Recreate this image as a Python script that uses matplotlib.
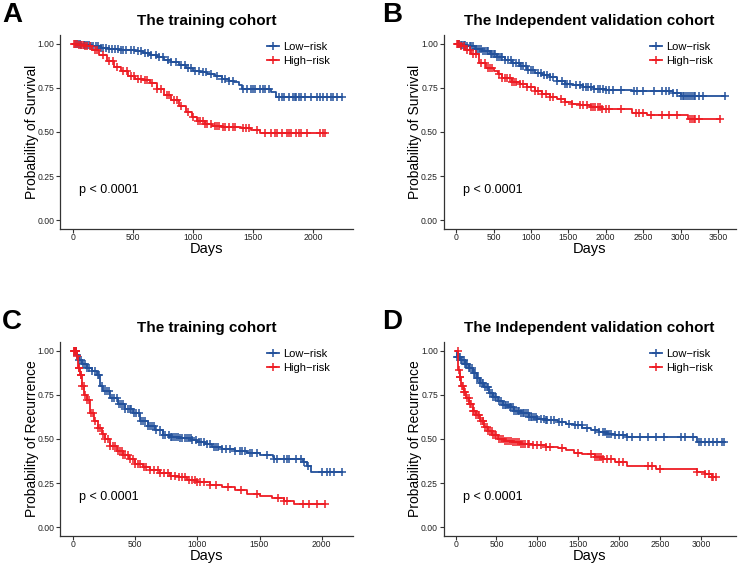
import numpy as np
import matplotlib
matplotlib.use("Agg")
import matplotlib.pyplot as plt
from matplotlib.lines import Line2D

plt.rcParams["font.family"] = "Liberation Sans"

BLUE = "#23519B"
RED = "#EE1C24"

# ---- Panel A: training cohort, survival ----
a_low_t = [0, 60, 150, 230, 300, 380, 450, 520, 580, 640, 700, 760, 820, 880, 940, 1000,
           1060, 1120, 1180, 1240, 1300, 1340, 1380, 1410, 1650, 1690, 2239]
a_low_s = [1.0, .995, .985, .978, .972, .967, .962, .957, .948, .936, .924, .91, .895, .878, .862, .848,
           .838, .826, .815, .803, .79, .782, .765, .745, .725, .70, .70]
a_low_c = [25, 40, 55, 70, 90, 100, 115, 130, 150, 170, 190, 210, 230, 250, 275, 300, 325, 350, 375,
           400, 420, 445, 480, 510, 540, 570, 600, 625, 650, 690, 720, 750, 790, 820, 860, 900, 930, 960,
           980, 1020, 1050, 1080, 1110, 1150, 1200, 1240, 1270, 1300, 1330, 1420, 1450, 1480, 1500, 1520,
           1560, 1580, 1600, 1630, 1720, 1740, 1760, 1800, 1830, 1850, 1860, 1880, 1900, 1930, 1980,
           2030, 2060, 2080, 2120, 2150, 2170, 2200, 2239]
a_high_t = [0, 40, 100, 160, 220, 280, 340, 400, 460, 520, 580, 640, 700, 760, 820, 880, 940, 990,
            1030, 1100, 1160, 1250, 1400, 1480, 1560, 2100]
a_high_s = [1.0, .995, .985, .965, .935, .9, .87, .845, .82, .80, .795, .78, .745, .71, .68, .645, .615, .585,
            .56, .545, .535, .528, .52, .51, .495, .495]
a_high_c = [10, 20, 35, 50, 65, 80, 100, 120, 140, 180, 200, 250, 300, 330, 370, 420, 450, 480, 510,
            540, 570, 600, 620, 660, 700, 730, 780, 800, 840, 870, 900, 960, 1000, 1040, 1060, 1080,
            1100, 1120, 1150, 1180, 1200, 1220, 1250, 1270, 1300, 1330, 1350, 1420, 1440, 1470, 1530,
            1600, 1650, 1680, 1700, 1740, 1780, 1800, 1820, 1860, 1880, 1900, 1950, 2060, 2080, 2100]

# ---- Panel B: validation cohort, survival ----
b_low_t = [0, 60, 150, 250, 350, 450, 550, 650, 750, 850, 950, 1050, 1150, 1250, 1350, 1450, 1550,
           1700, 1850, 2000, 2350, 2900, 3000, 3590]
b_low_s = [1.0, .995, .985, .972, .958, .942, .925, .91, .89, .872, .852, .835, .822, .81, .79, .77, .765,
           .755, .745, .74, .73, .72, .705, .705]
b_low_c = [20, 40, 60, 80, 100, 120, 150, 180, 200, 230, 260, 280, 310, 330, 360, 380, 410, 430, 460,
           480, 500, 520, 550, 580, 600, 620, 660, 700, 730, 760, 800, 840, 870, 900, 930, 960, 1000,
           1030, 1100, 1140, 1180, 1220, 1260, 1300, 1350, 1420, 1450, 1480, 1520, 1600, 1650, 1700,
           1730, 1760, 1800, 1850, 1900, 1930, 1960, 2000, 2050, 2100, 2200, 2380, 2420, 2500, 2650,
           2750, 2800, 2850, 2900, 2950, 3000, 3030, 3050, 3080, 3100, 3130, 3150, 3180, 3200, 3250,
           3300, 3590]
b_high_t = [0, 50, 120, 200, 300, 400, 500, 560, 620, 750, 850, 950, 1050, 1150, 1250, 1350, 1450, 1550,
            1650, 1800, 1950, 2350, 2550, 3100, 3522]
b_high_s = [1.0, .985, .965, .94, .89, .865, .845, .83, .805, .785, .77, .755, .735, .718, .70, .685, .67,
            .66, .652, .64, .628, .61, .597, .575, .575]
b_high_c = [10, 20, 40, 60, 100, 150, 180, 220, 260, 330, 380, 420, 450, 480, 580, 620, 650, 680, 720,
            750, 780, 800, 850, 900, 950, 1000, 1050, 1100, 1150, 1200, 1250, 1300, 1400, 1450, 1550,
            1650, 1700, 1750, 1800, 1830, 1860, 1900, 1930, 1950, 2000, 2050, 2200, 2400, 2450, 2500,
            2600, 2750, 2850, 2950, 3130, 3150, 3180, 3200, 3250, 3522]

# ---- Panel C: training cohort, recurrence ----
c_low_t = [0, 30, 45, 70, 110, 150, 190, 220, 240, 300, 360, 420, 480, 540, 600, 660, 720, 780, 850,
           950, 1000, 1060, 1120, 1200, 1300, 1400, 1500, 1610, 1620, 1850, 1880, 1912, 2161]
c_low_s = [1.0, .975, .945, .925, .905, .885, .86, .80, .77, .73, .70, .67, .645, .60, .575, .55, .525, .51,
           .505, .495, .485, .47, .455, .445, .43, .418, .407, .395, .388, .37, .345, .312, .312]
c_low_c = [15, 20, 25, 35, 50, 60, 80, 100, 115, 130, 150, 180, 200, 210, 230, 260, 275, 290, 310, 330,
           350, 370, 385, 400, 420, 440, 455, 470, 490, 510, 530, 550, 565, 580, 600, 620, 635, 650,
           670, 700, 720, 740, 770, 790, 800, 815, 830, 845, 860, 880, 900, 915, 930, 945, 960, 990,
           1010, 1030, 1050, 1080, 1100, 1130, 1150, 1170, 1200, 1230, 1260, 1300, 1340, 1360, 1380,
           1420, 1440, 1480, 1560, 1620, 1640, 1700, 1720, 1740, 1790, 1830, 1860, 1890, 2000, 2040,
           2070, 2100, 2161]
c_high_t = [0, 30, 40, 55, 70, 90, 110, 140, 170, 200, 230, 260, 300, 350, 400, 450, 500, 560, 620, 700,
            780, 850, 920, 1000, 1100, 1200, 1300, 1400, 1500, 1600, 1700, 1780, 2027]
c_high_s = [1.0, .97, .90, .86, .80, .75, .72, .645, .60, .565, .53, .50, .46, .43, .41, .385, .36, .34, .325,
            .305, .29, .282, .27, .255, .24, .225, .21, .19, .176, .165, .15, .131, .131]
c_high_c = [5, 10, 15, 20, 25, 35, 45, 50, 60, 65, 75, 85, 100, 115, 130, 145, 160, 180, 200, 215, 240,
            260, 280, 300, 320, 340, 360, 375, 390, 405, 420, 440, 460, 480, 500, 520, 540, 570, 590,
            620, 650, 680, 700, 730, 760, 790, 820, 850, 880, 900, 930, 960, 980, 1000, 1020, 1050,
            1100, 1150, 1250, 1350, 1480, 1650, 1700, 1720, 1850, 1900, 1960, 2027]

# ---- Panel D: validation cohort, recurrence ----
d_low_t = [0, 20, 60, 110, 160, 210, 260, 300, 350, 410, 460, 520, 580, 650, 720, 800, 900, 1000, 1100,
           1250, 1350, 1450, 1550, 1650, 1750, 1850, 1950, 2100, 2950, 3285]
d_low_s = [1.0, .966, .945, .925, .90, .875, .845, .82, .795, .76, .74, .715, .695, .68, .66, .645, .625,
           .613, .605, .597, .587, .578, .565, .55, .54, .528, .52, .511, .485, .485]
d_low_c = [20, 30, 40, 50, 65, 80, 100, 120, 130, 140, 160, 180, 200, 220, 240, 260, 280, 300, 320, 340,
           360, 380, 400, 420, 440, 460, 480, 500, 530, 560, 580, 600, 620, 640, 660, 680, 700, 720,
           740, 760, 780, 800, 820, 840, 860, 880, 900, 920, 940, 960, 980, 1000, 1040, 1080, 1100,
           1120, 1160, 1200, 1260, 1300, 1380, 1460, 1500, 1540, 1600, 1700, 1750, 1800, 1830, 1850,
           1880, 1900, 1950, 2000, 2050, 2100, 2150, 2250, 2350, 2450, 2550, 2750, 2800, 2900, 2980,
           3000, 3050, 3100, 3150, 3200, 3250, 3285]
d_high_t = [0, 30, 50, 70, 100, 130, 170, 210, 250, 300, 350, 400, 450, 520, 600, 700, 800, 950, 1100,
            1250, 1350, 1450, 1550, 1700, 1800, 1950, 2100, 2450, 2950, 3050, 3130, 3182]
d_high_s = [1.0, .89, .85, .80, .765, .73, .70, .66, .635, .60, .57, .545, .52, .50, .49, .48, .47, .465,
            .457, .45, .44, .42, .415, .395, .385, .37, .345, .331, .31, .30, .285, .285]
d_high_c = [25, 40, 50, 60, 75, 90, 105, 120, 140, 160, 175, 190, 210, 230, 250, 270, 290, 310, 330,
            340, 360, 380, 400, 420, 440, 460, 480, 500, 530, 550, 580, 600, 630, 650, 680, 700, 730,
            750, 780, 800, 830, 850, 880, 900, 950, 1000, 1050, 1100, 1150, 1300, 1500, 1650, 1700,
            1730, 1750, 1780, 1800, 1850, 1900, 2000, 2050, 2350, 2400, 2500, 2950, 3050, 3100, 3130,
            3150, 3182]

panels = [
    ("A", "The training cohort", "Probability of Survival",
     (a_low_t, a_low_s, a_low_c), (a_high_t, a_high_s, a_high_c), (-108, 2333), np.arange(0, 2001, 500)),
    ("B", "The Independent validation cohort", "Probability of Survival",
     (b_low_t, b_low_s, b_low_c), (b_high_t, b_high_s, b_high_c), (-168, 3739), np.arange(0, 3501, 500)),
    ("C", "The training cohort", "Probability of Recurrence",
     (c_low_t, c_low_s, c_low_c), (c_high_t, c_high_s, c_high_c), (-105, 2252), np.arange(0, 2001, 500)),
    ("D", "The Independent validation cohort", "Probability of Recurrence",
     (d_low_t, d_low_s, d_low_c), (d_high_t, d_high_s, d_high_c), (-147, 3424), np.arange(0, 3001, 500)),
]

# axes boxes in figure fractions (left, bottom, width, height)
boxes = [(0.0813, 0.5933, 0.397, 0.3446), (0.601, 0.5933, 0.396, 0.3446),
         (0.0813, 0.048, 0.397, 0.3446), (0.601, 0.048, 0.396, 0.3446)]
letter_pos = [(0.003, 0.973), (0.518, 0.973), (0.003, 0.428), (0.518, 0.428)]


def draw_km(ax, t, s, cens, color):
    t = np.asarray(t, dtype=float)
    s = np.asarray(s, dtype=float)
    ax.step(t, s, where="post", color=color, lw=1.3)
    idx = np.searchsorted(t, cens, side="right") - 1
    ax.plot(cens, s[idx], ls="none", marker="+", ms=5.5, mew=1.1, color=color)


fig = plt.figure(figsize=(7.38, 5.63), dpi=100)

for (letter, title, ylab, low, high, xlim, xt), box, lp in zip(panels, boxes, letter_pos):
    ax = fig.add_axes(box)
    draw_km(ax, *low, BLUE)
    draw_km(ax, *high, RED)
    ax.set_xlim(*xlim)
    ax.set_ylim(-0.05, 1.05)
    ax.set_xticks(xt)
    ax.set_yticks([0, 0.25, 0.5, 0.75, 1.0])
    ax.set_yticklabels(["0.00", "0.25", "0.50", "0.75", "1.00"])
    for sp in ["top", "right"]:
        ax.spines[sp].set_visible(False)
    for sp in ["left", "bottom"]:
        ax.spines[sp].set_color("#333333")
        ax.spines[sp].set_linewidth(0.9)
    ax.tick_params(labelsize=6.2, length=3, width=0.8, color="#333333", labelcolor="#222222", pad=1)
    ax.tick_params(axis="x", pad=0)
    ax.set_title(title, fontsize=11, fontweight="bold", pad=7)
    ax.set_ylabel(ylab, fontsize=10)
    ax.yaxis.set_label_coords(-0.073, 0.5)
    ax.set_xlabel("Days", fontsize=10.5)
    ax.xaxis.set_label_coords(0.5, -0.068)
    ax.text(0.065, 0.2, "p < 0.0001", transform=ax.transAxes, fontsize=9, va="center")
    handles = [Line2D([], [], color=BLUE, lw=1.3, marker="+", ms=5.5, mew=1.1),
               Line2D([], [], color=RED, lw=1.3, marker="+", ms=5.5, mew=1.1)]
    ax.legend(handles, ["Low\u2212risk", "High\u2212risk"], loc="upper left", bbox_to_anchor=(0.69, 0.985),
              frameon=False, fontsize=8, handlelength=1.1, handletextpad=0.4, labelspacing=0.3,
              borderaxespad=0)
    fig.text(lp[0], lp[1], letter, fontsize=20, fontweight="bold", va="center", ha="left")

fig.savefig("out.png", dpi=100)
